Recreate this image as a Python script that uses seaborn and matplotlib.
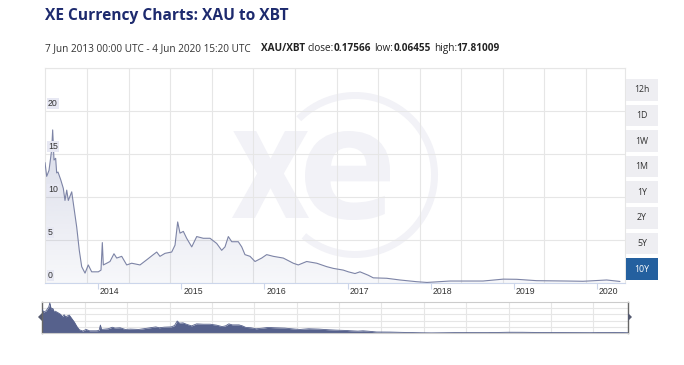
import numpy as np
import matplotlib
matplotlib.use("Agg")
import matplotlib.pyplot as plt
import matplotlib.text as mtext
import seaborn as sns
from matplotlib.patches import Rectangle, Wedge, PathPatch, Polygon
from matplotlib.textpath import TextPath
from matplotlib.font_manager import FontProperties
from matplotlib.transforms import Affine2D

# ---------------- data ----------------
years = [2013.363, 2013.383, 2013.411, 2013.443, 2013.455, 2013.471, 2013.491, 2013.503,
         2013.519, 2013.552, 2013.583, 2013.603, 2013.624, 2013.643, 2013.684, 2013.703,
         2013.744, 2013.775, 2013.804, 2013.844, 2013.883, 2013.924, 2014.004, 2014.036,
         2014.052, 2014.064, 2014.105, 2014.144, 2014.192, 2014.225, 2014.285, 2014.345,
         2014.405, 2014.505, 2014.586, 2014.665, 2014.706, 2014.745, 2014.806, 2014.886,
         2014.926, 2014.958, 2014.986, 2015.026, 2015.066, 2015.127, 2015.187, 2015.266,
         2015.347, 2015.427, 2015.487, 2015.527, 2015.567, 2015.608, 2015.687, 2015.728,
         2015.767, 2015.828, 2015.888, 2015.968, 2016.028, 2016.108, 2016.228, 2016.348,
         2016.408, 2016.509, 2016.630, 2016.750, 2016.829, 2016.949, 2017.010, 2017.090,
         2017.150, 2017.250, 2017.310, 2017.471, 2017.631, 2017.832, 2017.956, 2018.232,
         2018.629, 2018.873, 2019.034, 2019.275, 2019.635, 2019.831, 2020.116, 2020.276]
rates = [14.0, 12.4, 13.1, 15.5, 17.8, 14.3, 14.5, 12.8,
         12.9, 12.0, 11.0, 9.6, 10.8, 9.6, 10.6, 9.3,
         6.5, 3.8, 1.9, 1.15, 2.1, 1.3, 1.3, 1.5,
         4.7, 2.1, 2.3, 2.5, 3.4, 2.9, 3.1, 2.1,
         2.3, 2.1, 2.7, 3.3, 3.6, 3.1, 3.45, 3.6,
         4.4, 7.1, 5.8, 6.0, 5.2, 4.2, 5.4, 5.2,
         5.2, 4.6, 3.8, 4.2, 5.4, 4.8, 4.8, 4.2,
         3.3, 3.1, 2.5, 2.9, 3.3, 3.1, 2.9, 2.3,
         2.1, 2.5, 2.3, 1.9, 1.7, 1.5, 1.3, 1.1,
         1.3, 0.9, 0.6, 0.55, 0.35, 0.15, 0.065, 0.23,
         0.23, 0.45, 0.43, 0.27, 0.23, 0.2, 0.35, 0.18]
y_ticks = [0, 5, 10, 15, 20]
x_tick_years = [2014, 2015, 2016, 2017, 2018, 2019, 2020]
x_tick_labels = ["2014", "2015", "2016", "2017", "2018", "2019", "2020"]
range_buttons = ["12h", "1D", "1W", "1M", "1Y", "2Y", "5Y", "10Y"]
active_button = "10Y"
title = "XE Currency Charts: XAU to XBT"
period_text = "7 Jun 2013 00:00 UTC - 4 Jun 2020 15:20 UTC"
pair = "XAU/XBT"
stats = [("close:", "0.17566"), ("low:", "0.06455"), ("high:", "17.81009")]

# ---------------- styling ----------------
sns.set_theme(style="white")
plt.rcParams["font.family"] = ["Open Sans", "DejaVu Sans"]

W, H = 684, 365
fig = plt.figure(figsize=(W / 100, H / 100), dpi=100)
fig.patch.set_facecolor("white")
PX = Affine2D().scale(1 / W, 1 / H) + fig.transFigure   # pixel coords, y up


def fx(px):
    return px / W


def fy(py):
    return 1 - py / H


GRID = "#e6e6e6"
LINE = "#7d84a6"
NAVY = "#1d2a6e"
LOGO = "#f2f2f7"

# ---------------- titles ----------------
fig.text(fx(45), fy(20), title, fontsize=11.2, fontweight="bold", color=NAVY,
         va="baseline", ha="left")
pieces = [(pair, "bold", 10)]
for lab, val in stats:
    pieces.append((lab, "normal", 3))
    pieces.append((val, "bold", 0))
anchor = fig.text(fx(45), fy(51), period_text, fontsize=7.2, color="#333333",
                  va="baseline", ha="left")
for txt, wt, gap in pieces:
    anchor = fig.add_artist(mtext.Annotation(
        txt, xy=(1, 0), xycoords=anchor, xytext=(gap, 0), textcoords="offset pixels",
        fontsize=7.2, color="#222222", fontweight=wt, va="bottom", ha="left"))

# ---------------- main axes ----------------
ax = fig.add_axes([fx(45), fy(283), (625 - 45) / W, (283 - 68) / H])
ax.set_facecolor("white")
x0 = 2014 + (45 - 98) / 83.17
x1 = 2014 + (625 - 98) / 83.17

# watermark logo
fp = FontProperties(family="Open Sans", weight="bold")


def glyph(ch, gx0, gx1, gytop, gybot):
    tp = TextPath((0, 0), ch, size=100, prop=fp)
    e = tp.get_extents()
    sx = (gx1 - gx0) / e.width
    sy = (gybot - gytop) / e.height
    tr = Affine2D().translate(-e.x0, -e.y0).scale(sx, sy).translate(gx0, H - gybot) + PX
    ax.add_artist(PathPatch(tp, transform=tr, fc=LOGO, ec="none", zorder=0.1))


glyph("x", 232, 309, 131, 218)
glyph("e", 305, 390, 131, 220)
ax.add_artist(Wedge((355, H - 175), 83, -130, 135, width=7, transform=PX,
                    fc=LOGO, ec="none", zorder=0.1))

# grid
grid_x = np.arange(2014 + (87 - 98) / 83.17, x1 + 0.01, 0.5)
for gx in grid_x:
    ax.axvline(gx, color=GRID, lw=0.8, zorder=0.5)
for gy in list(y_ticks) + [25]:
    ax.axhline(gy, color=GRID, lw=0.8, zorder=0.5)

# area with gradient fill
verts = list(zip(years, rates)) + [(years[-1], 0), (years[0], 0)]
poly = Polygon(verts, closed=True, fc="none", ec="none", transform=ax.transData)
ax.add_patch(poly)
n = 256
rgba = np.zeros((n, 1, 4))
rgba[..., 0] = 125 / 255
rgba[..., 1] = 134 / 255
rgba[..., 2] = 180 / 255
rgba[:, 0, 3] = np.linspace(0.32, 0.06, n)
im = ax.imshow(rgba, extent=[x0, x1, 0, 20], aspect="auto", origin="upper",
               zorder=1, interpolation="bilinear")
im.set_clip_path(poly)
sns.lineplot(x=years, y=rates, ax=ax, color=LINE, lw=0.8, zorder=3, legend=False)

ax.set_xlim(x0, x1)
ax.set_ylim(0, 25)
ax.set_xlabel("")
ax.set_ylabel("")
ax.grid(False)
ax.set_xticks(x_tick_years)
ax.set_xticklabels([])
ax.set_yticks([])
ax.tick_params(axis="x", which="major", length=4, width=0.8, color="#ccd6eb",
               direction="out", bottom=True)
for s in ["left", "right", "top"]:
    ax.spines[s].set_color(GRID)
    ax.spines[s].set_linewidth(0.8)
ax.spines["bottom"].set_color("#ccd6eb")
ax.spines["bottom"].set_linewidth(0.8)

# y labels inside plot with lavender box
for v in y_ticks:
    ax.annotate(str(v), xy=(0, v), xycoords=("axes fraction", "data"),
                xytext=(3, 3), textcoords="offset pixels", ha="left", va="bottom",
                fontsize=6.3, color="#333333", family="Liberation Sans", zorder=5,
                bbox=dict(boxstyle="square,pad=0.12", fc="#e7e8f3", ec="none"))
# x labels to the right of the ticks
for yr, lab in zip(x_tick_years, x_tick_labels):
    ax.annotate(lab, xy=(yr, 0), xycoords=("data", "axes fraction"),
                xytext=(2, -4), textcoords="offset pixels", ha="left", va="top",
                fontsize=6.3, color="#333333", family="Liberation Sans")

# ---------------- range buttons ----------------
for i, b in enumerate(range_buttons):
    top = 79 + i * 25.6
    active = b == active_button
    fig.add_artist(Rectangle((626, H - top - 21.5), 32, 21.5, transform=PX,
                             fc="#24609f" if active else "#eeeef2", ec="none"))
    fig.text(fx(642), fy(top + 10.8), b, fontsize=6.3, ha="center", va="center",
             color="white" if active else "#333333")

# ---------------- navigator ----------------
axn = fig.add_axes([fx(42), fy(333), (628 - 42) / W, (333 - 302) / H])
axn.set_facecolor("white")
ymax_n = max(rates) * 1.03
for gx in np.arange(grid_x[0], years[-1], 0.5):
    axn.axvline(gx, color=GRID, lw=0.8, zorder=0.5)
for f in [0.2, 0.4, 0.6, 0.8]:
    axn.axhline(ymax_n * f, color=GRID, lw=0.8, zorder=0.5)
axn.fill_between(years, rates, 0, color="#56618c", lw=0, zorder=2)
sns.lineplot(x=years, y=rates, ax=axn, color="#56618c", lw=0.6, zorder=3, legend=False)
axn.set_xlim(years[0], years[-1])
axn.set_ylim(0, ymax_n)
axn.set_xticks([])
axn.set_yticks([])
axn.set_xlabel("")
axn.set_ylabel("")
for s in ["top", "bottom"]:
    axn.spines[s].set_color("#cccccc")
    axn.spines[s].set_linewidth(0.8)
for s in ["left", "right"]:
    axn.spines[s].set_color("#666666")
    axn.spines[s].set_linewidth(1.0)
# handles
fig.add_artist(Polygon([(42, H - 313), (42, H - 321), (38, H - 317)], closed=True,
                       transform=PX, fc="#555a70", ec="none"))
fig.add_artist(Polygon([(628, H - 313), (628, H - 321), (632, H - 317)], closed=True,
                       transform=PX, fc="#555a70", ec="none"))

fig.savefig("out.png", dpi=100)
